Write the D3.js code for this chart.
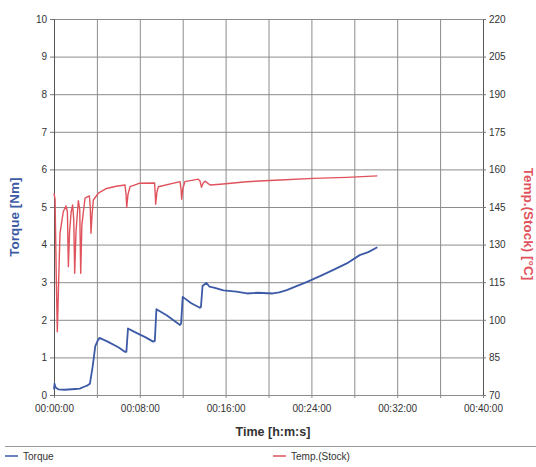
<!DOCTYPE html>
<html>
<head>
<meta charset="utf-8">
<script src="https://cdn.jsdelivr.net/npm/d3@7"></script>
<style>
  body { margin: 0; background: #fff; }
  svg { display: block; font-family: "Liberation Sans", Arial, sans-serif; }
</style>
</head>
<body>
<script>
const width = 536,
  height = 467;

const margin = { top: 19, right: 53, bottom: 72, left: 54 };
const innerWidth = width - margin.left - margin.right;
const innerHeight = height - margin.top - margin.bottom;

// time in minutes, torque in Nm
const torqueTime = [0, 0.05, 0.15, 0.4, 1.0, 2.0, 2.4, 2.8, 3.1, 3.35, 3.6, 3.85, 4.1, 4.25, 5.0, 6.0, 6.6, 6.75, 6.9, 7.5, 8.5, 9.25, 9.4, 9.55, 10.5, 11.75, 11.85, 12.0, 12.8, 13.6, 13.7, 13.85, 14.2, 14.5, 15.0, 15.8, 17.0, 18.0, 19.0, 20.4, 21.0, 21.7, 22.5, 23.6, 24.8, 26.0, 27.3, 28.5, 29.3, 30.15];
const torque = [0.15, 0.3, 0.2, 0.15, 0.14, 0.16, 0.17, 0.22, 0.25, 0.3, 0.75, 1.3, 1.46, 1.52, 1.42, 1.27, 1.15, 1.15, 1.77, 1.68, 1.54, 1.42, 1.44, 2.28, 2.12, 1.86, 1.9, 2.61, 2.44, 2.32, 2.34, 2.9, 2.98, 2.88, 2.85, 2.78, 2.75, 2.7, 2.72, 2.7, 2.73, 2.79, 2.88, 3.01, 3.16, 3.32, 3.5, 3.72, 3.8, 3.93];

// time in minutes, stock temperature in °C
const tempTime = [0, 0.1, 0.2, 0.31, 0.45, 0.56, 0.75, 0.87, 1.12, 1.25, 1.34, 1.45, 1.6, 1.74, 1.84, 1.93, 2.05, 2.27, 2.4, 2.49, 2.6, 2.89, 3.3, 3.38, 3.45, 3.55, 3.67, 4.13, 4.9, 5.8, 6.62, 6.72, 6.78, 6.9, 7.09, 8.0, 9.38, 9.44, 9.48, 9.6, 9.73, 11.75, 11.85, 11.9, 12.0, 12.2, 13.45, 13.6, 13.75, 13.9, 14.08, 14.55, 15.5, 17.97, 21.1, 24.2, 27.3, 30.15];
const temp = [150.5, 148, 120, 95.2, 118, 134.5, 140, 143.2, 145.4, 143, 121.2, 135, 143, 145.8, 140, 118.6, 135, 147.5, 144, 118.6, 138, 148.5, 149.4, 145, 134.5, 142, 147.8, 150.5, 152.4, 153.3, 153.8, 150, 144.9, 150, 153.1, 154.5, 154.6, 150, 146.1, 151, 153.1, 155.1, 152, 148.1, 152, 155.1, 156.1, 155.5, 152.9, 154.5, 155.3, 153.8, 154.1, 155.1, 155.8, 156.4, 156.8, 157.4];

const xTicks = [0, 8, 16, 24, 32, 40];
const torqueTicks = [0, 1, 2, 3, 4, 5, 6, 7, 8, 9, 10];
const tempTicks = [70, 85, 100, 115, 130, 145, 160, 175, 190, 205, 220];

const blue = "#3c5aa6",
  red = "#e0535d";

const fmtTime = m => "00:" + String(m).padStart(2, "0") + ":00";

const xScale = d3.scaleLinear().domain([0, 40]).range([0, innerWidth]);
const yScale = d3.scaleLinear().domain([0, 10]).range([innerHeight, 0]);
const yScale2 = d3.scaleLinear().domain([70, 220]).range([innerHeight, 0]);

const svg = d3
  .select("body")
  .append("svg")
  .attr("width", width)
  .attr("height", height);

const mainG = svg
  .append("g")
  .attr("transform", `translate(${margin.left}, ${margin.top})`);

// grid
mainG
  .append("g")
  .selectAll("line")
  .data(torqueTicks)
  .join("line")
  .attr("x1", 0)
  .attr("x2", innerWidth)
  .attr("y1", d => yScale(d) + 0.5)
  .attr("y2", d => yScale(d) + 0.5)
  .attr("stroke", "#8c8c8c")
  .attr("stroke-width", 1);

mainG
  .append("g")
  .selectAll("line")
  .data(d3.range(0, 41, 4))
  .join("line")
  .attr("x1", d => xScale(d) + 0.5)
  .attr("x2", d => xScale(d) + 0.5)
  .attr("y1", 0)
  .attr("y2", innerHeight + 3)
  .attr("stroke", "#8c8c8c")
  .attr("stroke-width", 1);

// axes
const xAxis = d3
  .axisBottom(xScale)
  .tickValues(xTicks)
  .tickFormat(fmtTime)
  .tickSize(0)
  .tickPadding(10);

const yAxis = d3.axisLeft(yScale).tickValues(torqueTicks).tickSize(4).tickPadding(3);
const yAxis2 = d3.axisRight(yScale2).tickValues(tempTicks).tickSize(3).tickPadding(3);

const styleAxis = g => {
  g.select(".domain").attr("stroke", "#555");
  g.selectAll(".tick line").attr("stroke", "#777");
  g.selectAll("text")
    .attr("fill", "#333")
    .attr("font-size", 10)
    .attr("font-family", "'Liberation Sans', Arial, sans-serif");
};

mainG
  .append("g")
  .attr("transform", `translate(0,${innerHeight})`)
  .call(xAxis)
  .call(styleAxis)
  .call(g => g.select(".domain").remove());

mainG.append("g").call(yAxis).call(styleAxis);

mainG
  .append("g")
  .attr("transform", `translate(${innerWidth},0)`)
  .call(yAxis2)
  .call(styleAxis);

// lines
const torqueLine = d3
  .line()
  .x(d => xScale(d[0]))
  .y(d => yScale(d[1]));

const tempLine = d3
  .line()
  .x(d => xScale(d[0]))
  .y(d => yScale2(d[1]));

mainG
  .append("path")
  .datum(d3.zip(tempTime, temp))
  .attr("fill", "none")
  .attr("stroke", red)
  .attr("stroke-width", 1.4)
  .attr("stroke-linejoin", "round")
  .attr("d", tempLine);

mainG
  .append("path")
  .datum(d3.zip(torqueTime, torque))
  .attr("fill", "none")
  .attr("stroke", blue)
  .attr("stroke-width", 1.8)
  .attr("stroke-linejoin", "round")
  .attr("d", torqueLine);

// axis titles
svg
  .append("text")
  .attr("transform", "translate(19,217) rotate(-90)")
  .attr("text-anchor", "middle")
  .attr("fill", blue)
  .attr("font-weight", "bold")
  .attr("font-size", 13.5)
  .text("Torque [Nm]");

svg
  .append("text")
  .attr("transform", "translate(524,224) rotate(90)")
  .attr("text-anchor", "middle")
  .attr("fill", red)
  .attr("font-weight", "bold")
  .attr("font-size", 13.5)
  .text("Temp.(Stock) [°C]");

svg
  .append("text")
  .attr("x", 273)
  .attr("y", 436)
  .attr("text-anchor", "middle")
  .attr("fill", "#333")
  .attr("font-weight", "bold")
  .attr("font-size", 12.5)
  .text("Time [h:m:s]");

// legend
svg
  .append("line")
  .attr("x1", 5)
  .attr("x2", width)
  .attr("y1", 446.5)
  .attr("y2", 446.5)
  .attr("stroke", "#999");

const legendItems = [
  { name: "Torque", color: blue, x: 5 },
  { name: "Temp.(Stock)", color: red, x: 273 }
];

const legend = svg
  .selectAll(".legend")
  .data(legendItems)
  .join("g")
  .attr("class", "legend")
  .attr("transform", d => `translate(${d.x},456)`);

legend
  .append("line")
  .attr("x1", 0)
  .attr("x2", 13)
  .attr("stroke", d => d.color)
  .attr("stroke-width", 1.5);

legend
  .append("text")
  .attr("x", 18)
  .attr("dy", "0.35em")
  .attr("fill", "#333")
  .attr("font-size", 10)
  .text(d => d.name);
</script>
</body>
</html>
